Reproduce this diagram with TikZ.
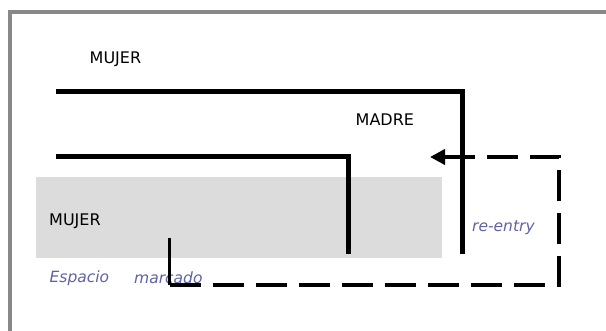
\documentclass[tikz,border=0pt]{standalone}
\usepackage{fontspec}
\setmainfont{DejaVu Sans}
\usetikzlibrary{arrows.meta}
\definecolor{framegray}{HTML}{888888}
\definecolor{greyzone}{HTML}{DCDCDC}
\definecolor{labelblue}{HTML}{5F62A6}
\tikzset{
  heavy/.style={line width=5pt, line join=miter},
  caps/.style={font=\fontsize{16}{18}\selectfont, text=black, inner sep=0pt, anchor=west},
  note/.style={font=\itshape\fontsize{15.5}{18}\selectfont, text=labelblue, inner sep=0pt, anchor=west},
  dashline/.style={line width=4.5pt, dash pattern=on 31pt off 12pt},
}
\begin{document}
\begin{tikzpicture}[x=1pt,y=-1pt]
\useasboundingbox (0,0) rectangle (606,331);
\fill[white] (0,0) rectangle (606,331);
% frame
\draw[framegray, line width=4pt] (9.7,400) -- (9.7,12) -- (700,12);
% shaded zone
\fill[greyzone] (36,177) rectangle (442,258);
% texts
\node[caps] (mujerTop) at (89.5,59.5) {MUJER};
\node[caps] (madre) at (355.5,120) {MADRE};
\node[caps] (mujerLow) at (49,221) {MUJER};
\node[note] (espacio) at (49.5,278) {Espacio};
\node[note] (marcado) at (134,278) {marcado};
\node[note] (reentry) at (472,228) {re-entry};
% coordinates
\coordinate (a1) at (56,92);
\coordinate (a2) at (462,92);
\coordinate (a3) at (462,254);
\coordinate (b1) at (56,157);
\coordinate (b2) at (348,157);
\coordinate (b3) at (348,254);
\coordinate (m1) at (169.5,238);
\coordinate (m2) at (169.5,285);
\coordinate (r1) at (559,285);
\coordinate (r2) at (559,157);
\coordinate (stem) at (446,157);
\coordinate (tip) at (430,157);
% solid lines
\draw[heavy] (a1) -- (a2) -- (a3);
\draw[heavy] (b1) -- (b2) -- (b3);
\draw[line width=3.5pt] (m1) -- (m2);
% dashed re-entry
\draw[dashline] (m2) -- (r1) -- (r2) -- (stem);
\draw[line width=4.5pt, -{Triangle[length=15pt,width=15pt]}] (stem) -- (tip);
\end{tikzpicture}
\end{document}
